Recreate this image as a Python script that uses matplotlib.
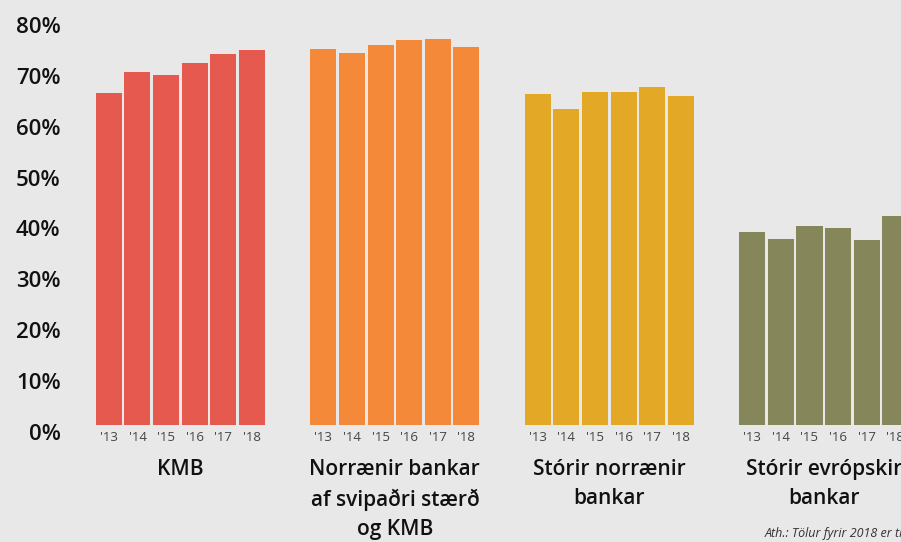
import numpy as np
import matplotlib
matplotlib.use("Agg")
import matplotlib.pyplot as plt
from matplotlib.transforms import ScaledTranslation

# ── data ──────────────────────────────────────────────────────────────────────
years = ["'13", "'14", "'15", "'16", "'17", "'18"]
groups = [
    "KMB",
    "Norrænir bankar\naf svipaðri stærð\nog KMB",
    "Stórir norrænir\nbankar",
    "Stórir evrópskir\nbankar",
]
kmb        = [65.4, 69.5, 68.9, 71.3, 73.0, 73.8]
norraenir  = [74.0, 73.2, 74.8, 75.8, 76.0, 74.4]
storir_nor = [65.2, 62.2, 65.6, 65.6, 66.5, 64.8]
storir_evr = [38.0, 36.6, 39.2, 38.8, 36.4, 41.1]
colors = ["#e5594f", "#f5893a", "#e2a826", "#85875a"]
yticks = [0, 10, 20, 30, 40, 50, 60, 70, 80]
note = "Ath.: Tölur fyrir 2018 er til 30. júní"

series = [kmb, norraenir, storir_nor, storir_evr]
BG = "#e8e8e8"
GROUP_STEP = 7.5

fig = plt.figure(figsize=(9.01, 5.42), dpi=100, facecolor=BG)
ax = fig.add_axes([80 / 901, 117 / 542, 821 / 901, 416.6 / 542])
ax.set_facecolor(BG)

for g, (vals, c) in enumerate(zip(series, colors)):
    x = np.arange(len(vals)) + g * GROUP_STEP
    ax.bar(x, vals, width=0.91, color=c, linewidth=0)
    for xi, yr in zip(x, years):
        ax.text(xi, -2.4, yr, ha="center", va="center", fontsize=9.5,
                color="#444444", family="Open Sans")
    ax.text(x.mean(), -6.7, groups[g], ha="center", va="top", fontsize=15,
            fontweight="semibold", family="Open Sans", color="#111111",
            linespacing=1.5)

ax.text(22.94, -21.3, note, ha="left", va="center", fontsize=9,
        style="italic", color="#333333", family="Open Sans")

ax.set_xlim(-1.01, 27.7)
ax.set_ylim(0, 82)
ax.set_yticks(yticks)
ax.set_yticklabels([f"{v}%" for v in yticks], fontsize=16,
                   fontweight="semibold", family="Open Sans", color="#111111")
ax.tick_params(axis="y", length=0, pad=14)
ax.set_xticks([])
for lbl in ax.get_yticklabels():
    lbl.set_transform(lbl.get_transform() + ScaledTranslation(0, -0.067, fig.dpi_scale_trans))
for s in ax.spines.values():
    s.set_visible(False)

for t in ax.texts:
    t.set_clip_on(False)

fig.savefig("out.png", dpi=100, facecolor=BG)
